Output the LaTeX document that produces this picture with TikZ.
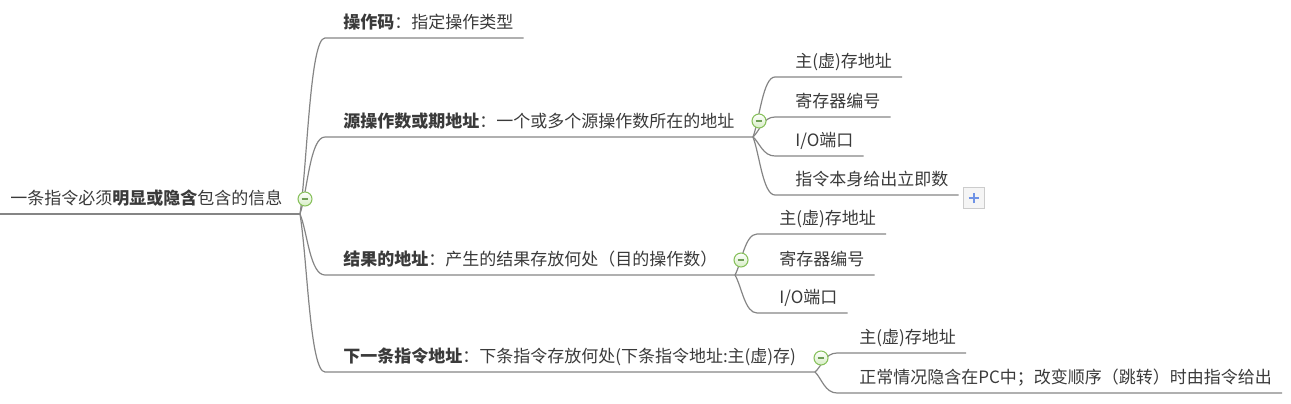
\documentclass[tikz,border=0pt]{standalone}
\usepackage{fontspec}
\setmainfont{Noto Sans CJK SC}
\usetikzlibrary{calc}

\definecolor{inkc}{HTML}{3A3A3A}
\definecolor{linec}{HTML}{858585}
\definecolor{togc}{HTML}{86C05A}
\definecolor{togf}{HTML}{D6EDC4}
\definecolor{togm}{HTML}{6E9E55}
\definecolor{plusc}{HTML}{6F93E6}

\begin{document}
\begin{tikzpicture}[x=0.75pt, y=-0.75pt, font=\fontsize{12.75}{15}\selectfont]
  \tikzstyle{txt} = [anchor=west, inner sep=0pt, text height=9.7pt, text depth=0pt, text=inkc]
  \tikzstyle{ln}  = [draw=linec, line width=0.9pt]
  \tikzstyle{lnk} = [to path={.. controls ($(\tikztostart)!0.3!(\tikztotarget)$)
                     and ($(\tikztostart |- \tikztotarget)+(10,0)$) .. (\tikztotarget)}]
  \tikzstyle{tog} = [circle, draw=togc, line width=0.8pt, inner sep=0pt, minimum size=10.5pt,
                     top color=white, bottom color=togf,
                     path picture={\draw[togm, line width=1pt]
                       ([xshift=-2.6pt]path picture bounding box.center) --
                       ([xshift=2.6pt]path picture bounding box.center);}]
  \tikzstyle{more} = [rectangle, draw=gray!40, fill=gray!8, inner sep=0pt, minimum size=16pt,
                      path picture={\draw[plusc, line width=1.5pt]
                        ([xshift=-4pt]path picture bounding box.center) --
                        ([xshift=4pt]path picture bounding box.center)
                        ([yshift=-4pt]path picture bounding box.center) --
                        ([yshift=4pt]path picture bounding box.center);}]

  \useasboundingbox (0,0) rectangle (1291,403);

  % root
  \node[txt] (root) at (10,198) {一条指令必须\textbf{明显或隐含}包含的信息};
  \coordinate (root-l) at (0,214);
  \coordinate (j0) at (300,214);
  \draw[ln] (root-l) -- (j0);

  % first level
  \node[txt] (op) at (343,22) {\textbf{操作码}：指定操作类型};
  \coordinate (op-l) at (325,38);
  \draw[ln] (j0) to[lnk] (op-l) -- ($(op.east |- op-l)+(10,0)$);

  \node[txt] (src) at (343,121) {\textbf{源操作数或期地址}：一个或多个源操作数所在的地址};
  \coordinate (src-l) at (325,137);
  \coordinate (j1) at (753,137);
  \draw[ln] (j0) to[lnk] (src-l) -- (j1);

  \node[txt] (res) at (343,259) {\textbf{结果的地址}：产生的结果存放何处（目的操作数）};
  \coordinate (res-l) at (325,275);
  \coordinate (j2) at (735,275);
  \draw[ln] (j0) to[lnk] (res-l) -- (j2);

  \node[txt] (nxt) at (343,356) {\textbf{下一条指令地址}：下条指令存放何处(下条指令地址:主(虚)存)};
  \coordinate (nxt-l) at (325,372);
  \coordinate (j3) at (815,372);
  \draw[ln] (j0) to[lnk] (nxt-l) -- (j3);

  % source operand
  \node[txt] (s1) at (795,61) {主(虚)存地址};
  \coordinate (s1-l) at (775,77);
  \draw[ln] (j1) to[lnk] (s1-l) -- ($(s1.east |- s1-l)+(10,0)$);
  \node[txt] (s2) at (795,101) {寄存器编号};
  \coordinate (s2-l) at (775,117);
  \draw[ln] (j1) to[lnk] (s2-l) -- ($(s2.east |- s2-l)+(10,0)$);
  \node[txt] (s3) at (795,140) {I/O端口};
  \coordinate (s3-l) at (775,156);
  \draw[ln] (j1) to[lnk] (s3-l) -- ($(s3.east |- s3-l)+(10,0)$);
  \node[txt] (s4) at (795,179) {指令本身给出立即数};
  \coordinate (s4-l) at (775,195);
  \draw[ln] (j1) to[lnk] (s4-l) -- ($(s4.east |- s4-l)+(10,0)$);
  \node[more] (s4-m) at (974,198) {};

  % result address
  \node[txt] (r1) at (779,218) {主(虚)存地址};
  \coordinate (r1-l) at (757,234);
  \draw[ln] (j2) to[lnk] (r1-l) -- ($(r1.east |- r1-l)+(10,0)$);
  \node[txt] (r2) at (779,259) {寄存器编号};
  \coordinate (r2-l) at (757,275);
  \draw[ln] (j2) to[lnk] (r2-l) -- ($(r2.east |- r2-l)+(10,0)$);
  \node[txt] (r3) at (779,297) {I/O端口};
  \coordinate (r3-l) at (757,313);
  \draw[ln] (j2) to[lnk] (r3-l) -- ($(r3.east |- r3-l)+(10,0)$);

  % next instruction
  \node[txt] (n1) at (859,337) {主(虚)存地址};
  \coordinate (n1-l) at (837,353);
  \draw[ln] (j3) to[lnk] (n1-l) -- ($(n1.east |- n1-l)+(10,0)$);
  \node[txt] (n2) at (859,377) {正常情况隐含在PC中；改变顺序（跳转）时由指令给出};
  \coordinate (n2-l) at (837,393);
  \draw[ln] (j3) to[lnk] (n2-l) -- ($(n2.east |- n2-l)+(10,0)$);

  % collapse buttons
  \node[tog] (root-t) at (305,199) {};
  \node[tog] (src-t) at (759,121) {};
  \node[tog] (res-t) at (741,260) {};
  \node[tog] (nxt-t) at (821,358) {};
\end{tikzpicture}
\end{document}
